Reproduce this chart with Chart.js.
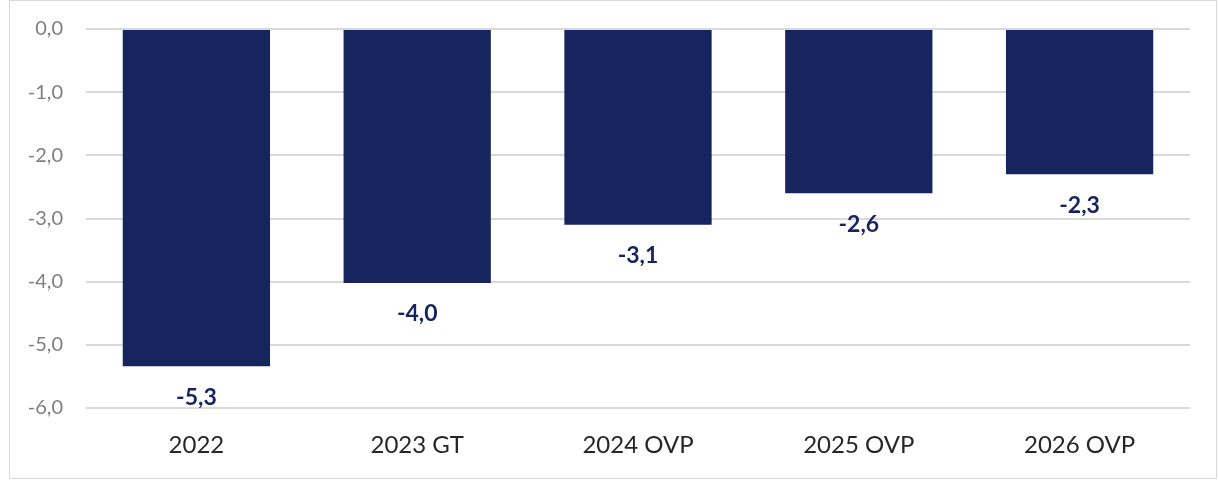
<!DOCTYPE html>
<html>
<head>
<meta charset="utf-8">
<script src="https://cdn.jsdelivr.net/npm/chart.js@4/dist/chart.umd.min.js"></script>
<style>
  body { margin: 0; background: #fff; }
  #box {
    position: absolute; left: 9px; top: 0px;
    width: 1206px; height: 477px;
    border: 1px solid #d9d9d9;
    overflow: hidden;
  }
  #chart { display: block; margin-top: -7px; }
</style>
</head>
<body>
<div id="box"><canvas id="chart" width="1206" height="484"></canvas></div>
<script>
var categories = ['2022', '2023 GT', '2024 OVP', '2025 OVP', '2026 OVP'];
var values = [-5.34, -4.02, -3.1, -2.6, -2.3];
var tickValues = [0, -1, -2, -3, -4, -5, -6];

var navy = '#17255e';

function fmt(v) {
    var s = Math.abs(v) < 1e-9 ? '0.0' : v.toFixed(1);
    return s.replace('.', ',');
}

// labels drawn under each bar end
var barLabels = {
    id: 'barLabels',
    afterDatasetsDraw: function (chart) {
        var ctx = chart.ctx;
        var meta = chart.getDatasetMeta(0);
        ctx.save();
        ctx.font = 'bold 23px Lato';
        ctx.fillStyle = navy;
        ctx.textAlign = 'center';
        ctx.textBaseline = 'middle';
        meta.data.forEach(function (bar, i) {
            ctx.fillText(fmt(values[i]), bar.x, bar.y + 31);
        });
        ctx.restore();
    }
};

var ctx = document.getElementById('chart').getContext('2d');
var myChart = new Chart(ctx, {
    type: 'bar',
    data: {
        labels: categories,
        datasets: [{
            data: values,
            backgroundColor: navy,
            borderWidth: 0,
            barPercentage: 0.667,
            categoryPercentage: 1
        }]
    },
    options: {
        responsive: false,
        animation: false,
        layout: {
            padding: { left: 0, right: 26, top: 21, bottom: 0 }
        },
        plugins: {
            legend: { display: false },
            tooltip: { enabled: false }
        },
        scales: {
            x: {
                grid: { display: false, drawTicks: false },
                border: { display: false },
                ticks: {
                    color: '#262626',
                    font: { family: 'Lato', size: 24 },
                    padding: 23
                },
                afterFit: function (scale) { scale.height = 70; }
            },
            y: {
                min: -6,
                max: 0,
                afterBuildTicks: function (scale) {
                    scale.ticks = tickValues.map(function (v) { return { value: v }; });
                },
                grid: { color: '#d9d9d9', lineWidth: 2, drawTicks: false },
                border: { display: false },
                ticks: {
                    color: '#7f7f7f',
                    font: { family: 'Lato', size: 20 },
                    padding: 23,
                    callback: function (v) { return fmt(v); }
                },
                afterFit: function (scale) { scale.width = 76; }
            }
        }
    },
    plugins: [barLabels]
});
</script>
</body>
</html>
